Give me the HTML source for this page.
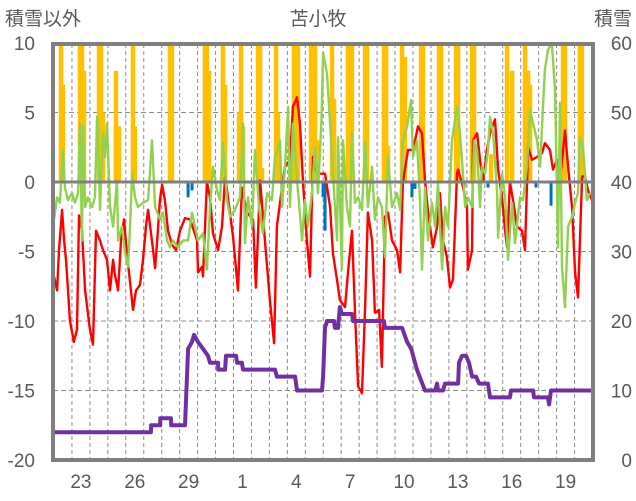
<!DOCTYPE html>
<html><head><meta charset="utf-8"><style>
html,body{margin:0;padding:0;background:#fff;}
svg{display:block;font-family:"Liberation Sans","Noto Sans CJK JP",sans-serif;}
</style></head><body>
<svg id="chart" width="636" height="501" viewBox="0 0 636 501" xmlns="http://www.w3.org/2000/svg">
<text x="5" y="25" font-size="19" fill="#595959">積雪以外</text>
<text x="318" y="25" font-size="19" fill="#595959" text-anchor="middle">苫小牧</text>
<text x="632" y="25" font-size="19" fill="#595959" text-anchor="end">積雪</text>
<g id="grid"></g>
<g id="bars"></g>
<g id="lines"></g>
<g id="frame"></g>
<g id="ticks"></g>
</svg>
<script>
const dayLabels = ["23","26","29","1","4","7","10","13","16","19"];
const dayLabelIdx = [1,4,7,10,13,16,19,22,25,28];
const leftTicks = [10,5,0,-5,-10,-15,-20];
const rightTicks = [60,50,40,30,20,10,0];

const orangeT = [0.39,0.50,1.45,1.56,1.67,2.51,2.62,2.73,3.45,3.62,4.40,4.51,6.46,6.57,8.41,8.52,8.64,9.41,9.53,10.31,10.42,10.53,11.37,11.48,11.59,12.37,12.48,13.37,13.48,13.59,14.32,14.43,14.54,14.65,15.49,15.60,16.38,16.49,16.60,17.33,17.44,18.38,18.50,18.61,19.39,19.55,20.45,20.56,21.45,21.56,22.40,22.51,23.29,23.40,24.35,25.24,25.52,26.24,26.41,26.52,28.36,28.47,29.30,29.41];
const orangeV = [12,7,12,12,8,12,12,5,8,4,12,4,12,12,12,12,8,12,7,5,12,4,12,12,1,12,5,12,12,12,12,12,12,3,12,6,12,12,12,12,12,12,12,2.6,12,9,12,12,12,12,12,12,12,12,2,12,8,12,8,7,12,12,12,12];
const blueT = [7.47,7.69,14.99,15.10,19.94,20.11,22.84,24.18,26.85,27.69];
const blueV = [-1.1,-0.6,-1.1,-3.5,-1.1,-0.5,-0.4,-0.4,-0.4,-1.7];

const redT = [0,0.17,0.28,0.45,0.56,0.67,0.89,1.11,1.28,1.39,1.56,1.73,2.0,2.17,2.34,2.56,2.73,2.95,3.12,3.29,3.4,3.57,3.73,3.9,4.07,4.23,4.4,4.57,4.79,4.96,5.13,5.24,5.52,5.63,5.79,5.9,6.02,6.18,6.35,6.57,6.8,7.02,7.3,7.58,7.97,8.02,8.25,8.30,8.52,8.69,8.86,9.14,9.36,9.53,9.69,9.97,10.25,10.47,10.75,11.09,11.25,11.48,11.75,12.03,12.26,12.42,12.70,12.87,13.15,13.31,13.54,13.70,13.87,14.09,14.26,14.43,14.65,14.93,15.10,15.38,15.54,15.77,15.93,16.21,16.38,16.60,16.77,16.94,17.16,17.33,17.49,17.72,17.88,18.11,18.27,18.44,18.61,18.83,19.11,19.28,19.44,19.72,20.00,20.28,20.50,20.67,20.84,21.11,21.34,21.50,21.67,21.89,22.06,22.23,22.45,22.51,22.79,23.01,23.06,23.29,23.34,23.57,23.73,23.90,24.12,24.29,24.57,24.74,24.96,25.13,25.24,25.40,25.57,25.79,26.07,26.24,26.41,26.63,26.91,27.19,27.35,27.63,27.80,28.02,28.19,28.47,28.64,28.86,29.03,29.19,29.42,29.58,29.75,29.97];
const redV = [-6.8,-7.8,-4.9,-2.0,-4.2,-5.6,-10,-11.5,-10.6,-2.4,-3.5,-7.8,-10.6,-11.7,-3.5,-4.2,-4.9,-5.6,-7.8,-5.6,-6.7,-7.8,-4.2,-2.7,-5.3,-7.1,-9.2,-7.8,-7.4,-5.6,-3.1,-2.0,-4.9,-6.2,-3.5,-1.3,-0.2,-1.3,-3.5,-4.5,-4.9,-3.5,-2.6,-2.7,-4.2,-6.5,-6.1,-6.8,0,-1.1,-3.7,-4.9,-3.2,0.4,-1.1,-3.9,-7.8,-0.4,-2.2,-2.7,-7.6,0.1,-4.2,-8.5,-11.6,-3.2,-0.4,1.1,1.6,5.4,6.1,4.2,0,-4.2,-6.8,1.8,0.6,0.6,0.6,-1.8,-5.1,-7.1,-8.5,-9,-6.5,-3.5,-9.4,-14.7,-15.2,-9,-2.2,-4.2,-9.4,-9.2,-13.3,-2.5,-2.2,-4.2,-4.9,-6.5,0,2.3,2.3,4,3.5,0.1,-2.2,-4.7,-3.2,-0.8,-4.2,-5.4,-7.6,-7,0.6,0.9,-0.4,-1.8,-6.3,-4.9,3,3.5,1.6,0,2.3,3.5,4.5,0.9,-1.1,-3.5,-4.7,0,-1.3,-3.2,-3.5,-4.9,2.5,1.6,1.8,2.1,2.8,2.3,0.9,1.6,0.1,3.7,1.1,-1.8,-6.5,-8.3,0.4,0.4,-0.6,-1.3];

const greenT = [0.00,0.17,0.33,0.50,0.61,0.78,1.00,1.17,1.34,1.45,1.56,1.62,1.73,1.89,2.12,2.28,2.40,2.45,2.56,2.73,2.84,2.95,3.12,3.29,3.51,3.57,3.79,3.96,4.12,4.23,4.35,4.51,4.68,4.96,5.24,5.46,5.63,5.91,6.07,6.30,6.46,6.63,6.91,7.19,7.47,7.69,8.02,8.30,8.52,8.69,8.86,9.08,9.25,9.41,9.64,9.81,10.08,10.36,10.53,10.64,10.81,11.03,11.20,11.42,11.64,11.87,12.14,12.31,12.59,12.70,12.87,13.04,13.15,13.31,13.59,13.82,13.98,14.15,14.37,14.54,14.71,14.90,14.99,15.21,15.38,15.54,15.77,15.82,16.04,16.10,16.32,16.49,16.60,16.77,16.94,17.16,17.33,17.49,17.72,17.88,18.05,18.27,18.44,18.61,18.83,19.11,19.28,19.44,19.67,19.89,20.00,20.22,20.39,20.50,20.67,20.84,21.06,21.23,21.39,21.62,21.78,21.95,22.17,22.45,22.51,22.73,22.90,23.06,23.29,23.40,23.57,23.73,23.84,24.01,24.18,24.29,24.46,24.68,24.74,24.96,25.13,25.29,25.52,25.68,25.96,26.13,26.35,26.52,26.69,26.91,27.08,27.24,27.35,27.52,27.74,27.91,28.02,28.08,28.19,28.30,28.47,28.64,28.86,29.03,29.19,29.30,29.47,29.69,29.86];
const greenV = [-2.7,-1.1,-1.5,2.3,-0.4,-1.3,-0.8,-1.5,-0.8,4.2,-4.2,4.0,-1.8,-1.1,-1.8,-1.1,4.7,4.0,-2.0,3.5,1.8,4.2,-1.8,-3.2,0.1,-4.2,-3.2,-5.1,-6.1,-3.5,0.6,-1.1,-1.8,-1.5,-1.3,3.0,-1.8,-2.7,-2.2,-4.2,-4.7,-4.2,-4.7,-4.2,-4.2,-2.2,-4.2,-3.7,-6.3,-1.8,1.1,-0.6,-1.3,2.8,-1.3,-2.5,-2.0,-1.1,4.2,-4.4,-1.1,-3.2,2.3,-1.8,-3.7,-0.8,-1.3,1.8,3.0,-1.8,1.1,5.4,-1.8,4.2,-0.6,-4.2,-1.3,-3.2,-0.8,2.5,-0.8,4.5,9.3,7.8,4.2,0.6,-4.2,3.2,-6.3,3.0,-1.8,-3.2,3.5,-1.5,-1.1,-2.0,2.8,-1.8,1.1,-2.7,-1.1,-1.8,-5.4,1.8,-1.8,-0.8,-2.0,3.0,4.0,5.9,1.8,3.0,-1.3,-6.3,-0.4,-4.2,-1.5,-3.2,-0.1,-6.3,-1.8,-3.2,3.0,5.4,5.2,1.6,-1.8,-1.1,-1.8,3.0,2.3,-1.8,1.1,0.6,2.3,4.7,3.5,-0.6,-4.0,0.6,-1.1,-5.6,-1.5,-4.4,-1.1,-1.3,1.1,5.2,4.2,3.0,1.1,5.4,8.1,9.5,10.0,6.6,-0.6,-4.7,5.7,-6.1,-9.0,-3.2,-2.5,-1.5,-0.8,3.2,2.5,-1.3,-0.8];

const snowT = [0,5.40,5.41,5.91,5.92,6.52,6.53,7.30,7.47,7.69,7.80,8.02,8.30,8.58,8.69,9.14,9.15,9.53,9.58,10.14,10.20,10.47,10.53,10.81,11.03,12.31,12.42,13.43,13.54,14.93,14.99,15.10,15.21,15.60,15.65,15.82,15.93,16.04,16.60,16.66,18.38,18.44,19.39,19.67,19.90,20.22,20.67,21.23,21.34,21.39,21.67,21.78,22.51,22.56,22.73,22.95,23.12,23.29,23.51,23.68,24.18,24.29,25.40,25.46,26.69,26.74,27.52,27.58,27.69,29.97];
const snowV = [4,4,5,5,6,6,5,5,16,17,18,17,16,15,14,14,13,13,15,15,14,14,13,13,13,13,12,12,10,10,12,19,20,20,19,19,22,21,21,20,20,19,19,17,16,13,10,10,11,10,10,11,11,14,15,15,14,12,12,11,11,9,9,10,10,9,9,8,10,10];

const NS = "http://www.w3.org/2000/svg";
const X0 = 54, PX_DAY = 17.95;
function xs(d){ return X0 + d*PX_DAY; }
function yl(v){ return 182 - v*13.9; }
function yr(s){ return 460 - s*6.95; }
function mk(tag, parent, attrs){ const e=document.createElementNS(NS,tag); for(const k in attrs) e.setAttribute(k,attrs[k]); parent.appendChild(e); return e; }

const grid = document.getElementById('grid');
for(let d=1; d<30; d++){
  const l = mk('line', grid, {x1:xs(d),x2:xs(d),y1:44,y2:460,stroke:'#8c8c8c','stroke-width':1,'stroke-dasharray':'4,3'});
  
  
}
[5,-5,-10,-15].forEach(v=>{
  const l = mk('line', grid, {x1:53,x2:593,y1:yl(v),y2:yl(v),stroke:'#8c8c8c','stroke-width':1,'stroke-dasharray':'5,3'});
  
  
});

const bars = document.getElementById('bars');
orangeT.forEach((t,i)=>{
  const v = Math.min(orangeV[i], 10);
  const r = mk('rect', bars, {x:xs(t)-2.25,y:yl(v),width:4.5,height:yl(0)-yl(v),fill:'#ffc000'});
  
  
});
blueT.forEach((t,i)=>{
  const r = mk('rect', bars, {x:xs(t)-1.5,y:yl(0),width:3,height:yl(blueV[i])-yl(0),fill:'#0070c0'});
  
  
});

const lines = document.getElementById('lines');
function poly(T,V,fy,color,w,name){
  const pts = T.map((t,i)=>xs(t).toFixed(1)+','+fy(V[i]).toFixed(1)).join(' ');
  const p = mk('polyline', lines, {points:pts,fill:'none',stroke:color,'stroke-width':w,'stroke-linejoin':'round'});
  
  
}
poly(redT, redV, yl, '#ff0000', 2.4, 'red-series-line');
poly(greenT, greenV, yl, '#92d050', 2.4, 'green-series-line');
poly(snowT, snowV, yr, '#7030a0', 4, 'snow-depth-line');

const frame = document.getElementById('frame');
const z = mk('line', frame, {x1:53,x2:593,y1:182,y2:182,stroke:'#7f7f7f','stroke-width':3});


const fr = mk('rect', frame, {x:53,y:44,width:540,height:416,fill:'none',stroke:'#7f7f7f','stroke-width':4});



const ticks = document.getElementById('ticks');
leftTicks.forEach(v=>{
  const t = mk('text', ticks, {x:35,y:yl(v)+7,'font-size':19,fill:'#595959','text-anchor':'end'});
  t.textContent = v;
  
  
});
rightTicks.forEach(v=>{
  const t = mk('text', ticks, {x:632,y:yr(v)+7,'font-size':19,fill:'#595959','text-anchor':'end'});
  t.textContent = v;
  
  
});
dayLabels.forEach((s,i)=>{
  const t = mk('text', ticks, {x:xs(dayLabelIdx[i]+0.5),y:488,'font-size':19,fill:'#595959','text-anchor':'middle'});
  t.textContent = s;
  
  
});
</script>
</body></html>
